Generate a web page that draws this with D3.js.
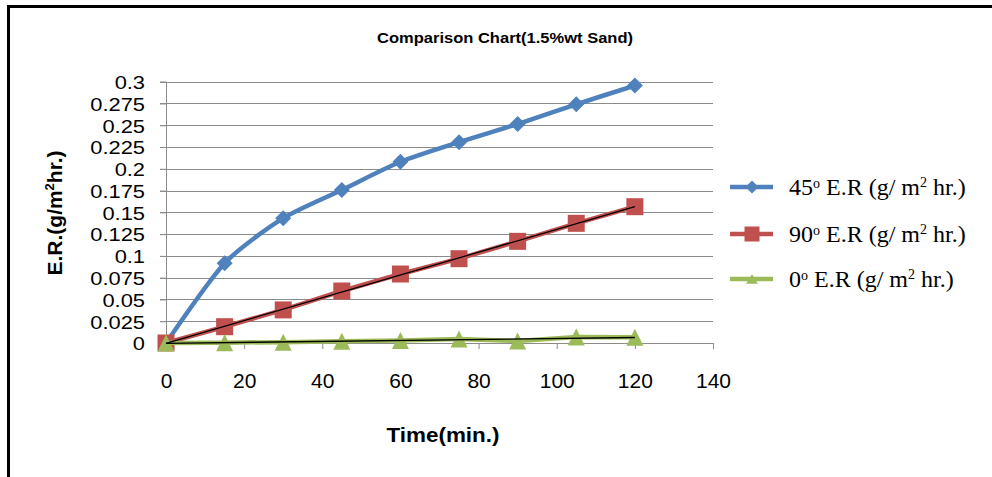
<!DOCTYPE html>
<html><head><meta charset="utf-8">
<script src="https://cdn.jsdelivr.net/npm/d3@7/dist/d3.min.js"></script>
<style>body{margin:0;background:#fff;}svg{display:block;}</style>
</head><body>
<svg id="c" width="992" height="477"></svg>
<script>
const times = [0, 15, 30, 45, 60, 75, 90, 105, 120];
const er45 = [0, 0.0916, 0.1433, 0.1757, 0.2081, 0.2306, 0.2514, 0.2741, 0.2955];
const er90 = [0, 0.0187, 0.0380, 0.0597, 0.0792, 0.0968, 0.1167, 0.1374, 0.1565];
const er0 = [0, 0.0004, 0.001, 0.002, 0.003, 0.0045, 0.0022, 0.007, 0.0065];
const xTicks = [0, 20, 40, 60, 80, 100, 120, 140];
const yTicks = [0, 0.025, 0.05, 0.075, 0.1, 0.125, 0.15, 0.175, 0.2, 0.225, 0.25, 0.275, 0.3];
const seriesNames = ["45", "90", "0"];
const chartTitle = "Comparison Chart(1.5%wt Sand)";
const xTitle = "Time(min.)";

const svg = d3.select("#c");
const x = d3.scaleLinear().domain([0, 140]).range([166, 713]);
const y = d3.scaleLinear().domain([0, 0.3]).range([343, 81.7]);
const grid = "#8c8c8c";

// border (top + left)
svg.append("path").attr("d", "M8.5,477 L8.5,6.5 L992,6.5").attr("fill", "none").attr("stroke", "#000").attr("stroke-width", 3);

// title
svg.append("text").attr("x", 505).attr("y", 43).attr("text-anchor", "middle")
  .attr("font-family", "Liberation Sans, Arial").attr("font-weight", "bold")
  .attr("font-size", 15).attr("textLength", 256).attr("lengthAdjust", "spacingAndGlyphs").text(chartTitle);

// gridlines
svg.append("g").selectAll("line").data(yTicks.filter(d => d > 0)).join("line")
  .attr("x1", x(0) - 6).attr("x2", x(140)).attr("y1", d => Math.round(y(d)) + 0.5).attr("y2", d => Math.round(y(d)) + 0.5)
  .attr("stroke", grid).attr("stroke-width", 1);

// y axis
const yAxis = d3.axisLeft(y).tickValues(yTicks).tickSize(6).tickPadding(3)
  .tickFormat(d => String(+d.toFixed(3)));
const gy = svg.append("g").attr("transform", `translate(${x(0)},0)`).call(yAxis);
gy.select(".domain").attr("stroke", grid);
gy.selectAll(".tick line").attr("stroke", grid);
gy.selectAll(".tick text").attr("font-family", "Liberation Sans, Arial").attr("font-size", 19).attr("fill", "#000")
  .attr("dy", "0.36em").attr("x", -21).attr("lengthAdjust", "spacingAndGlyphs")
  .attr("textLength", function () { return this.getComputedTextLength() * 1.15; });

// x axis
const xAxis = d3.axisBottom(x).tickValues(xTicks).tickSize(6).tickPadding(24);
const gx = svg.append("g").attr("transform", `translate(0,${y(0)})`).call(xAxis);
gx.select(".domain").attr("stroke", grid);
gx.selectAll(".tick line").attr("stroke", grid);
gx.selectAll(".tick text").attr("font-family", "Liberation Sans, Arial").attr("font-size", 21).attr("fill", "#000");

// axis titles
svg.append("text").attr("x", 443).attr("y", 442).attr("text-anchor", "middle")
  .attr("font-family", "Liberation Sans, Arial").attr("font-weight", "bold").attr("font-size", 21)
  .attr("textLength", 113).attr("lengthAdjust", "spacingAndGlyphs").text(xTitle);
const yt = svg.append("text").attr("transform", "translate(62,213) rotate(-90)").attr("text-anchor", "middle")
  .attr("font-family", "Liberation Sans, Arial").attr("font-weight", "bold").attr("font-size", 21);
yt.append("tspan").text("E.R.(g/m");
yt.append("tspan").attr("font-size", 13).attr("dy", -8).text("2");
yt.append("tspan").attr("dy", 8).text("hr.)");

const colors = ["#4f81bd", "#c0504d", "#9bbb59"];
const data = [er45, er90, er0].map(s => times.map((t, i) => [t, s[i]]));

const lineStraight = d3.line().x(d => x(d[0])).y(d => y(d[1]));
const lineSmooth = d3.line().x(d => x(d[0])).y(d => y(d[1])).curve(d3.curveCardinal.tension(0.3));

function markerPath(k, size) {
  const h = size / 2;
  if (k === 0) return `M0,${-h}L${h},0L0,${h}L${-h},0Z`;
  if (k === 1) return `M${-h},${-h}H${h}V${h}H${-h}Z`;
  return `M0,${-h}L${h},${h}L${-h},${h}Z`;
}
const mSizes = [16, 17, 17];

data.forEach((s, k) => {
  svg.append("path").datum(s).attr("d", k === 0 ? lineSmooth : lineStraight)
    .attr("fill", "none").attr("stroke", colors[k]).attr("stroke-width", 4.5).attr("stroke-linejoin", "round");
  svg.append("g").selectAll("path").data(s).join("path")
    .attr("transform", d => `translate(${x(d[0])},${y(d[1])})`)
    .attr("d", markerPath(k, mSizes[k])).attr("fill", colors[k]);
});

// linear trendlines for 90 and 0 series
function regress(s) {
  const mx = d3.mean(s, d => d[0]), my = d3.mean(s, d => d[1]);
  const b = d3.sum(s, d => (d[0] - mx) * (d[1] - my)) / d3.sum(s, d => (d[0] - mx) ** 2);
  return [b, my - b * mx];
}
[1, 2].forEach(k => {
  const [b, a] = regress(data[k]);
  const pts = [[0, a], [120, a + b * 120]];
  svg.append("path").datum(pts).attr("d", lineStraight).attr("fill", "none").attr("stroke", "#000").attr("stroke-width", 1.3);
});

// legend
const legY = [187, 234, 279];
const lg = svg.append("g");
seriesNames.forEach((n, k) => {
  const g = lg.append("g").attr("transform", `translate(0,${legY[k]})`);
  g.append("line").attr("x1", 730).attr("x2", 773).attr("stroke", colors[k]).attr("stroke-width", 4.5);
  const ls = [13, 15, 12][k];
  g.append("path").attr("transform", k === 2 ? "translate(752,0) scale(1,0.8)" : "translate(752,0)").attr("d", markerPath(k, ls)).attr("fill", colors[k]);
  const t = g.append("text").attr("x", 789).attr("y", 8).attr("font-family", "Liberation Serif, Times New Roman").attr("font-size", 24).attr("fill", "#000");
  t.append("tspan").text(n);
  t.append("tspan").attr("font-size", 14).attr("dy", -7).text("o");
  t.append("tspan").attr("dy", 7).text(" E.R (g/ m");
  t.append("tspan").attr("font-size", 14).attr("dy", -8).text("2");
  t.append("tspan").attr("dy", 8).text(" hr.)");
});
</script>
</body></html>
